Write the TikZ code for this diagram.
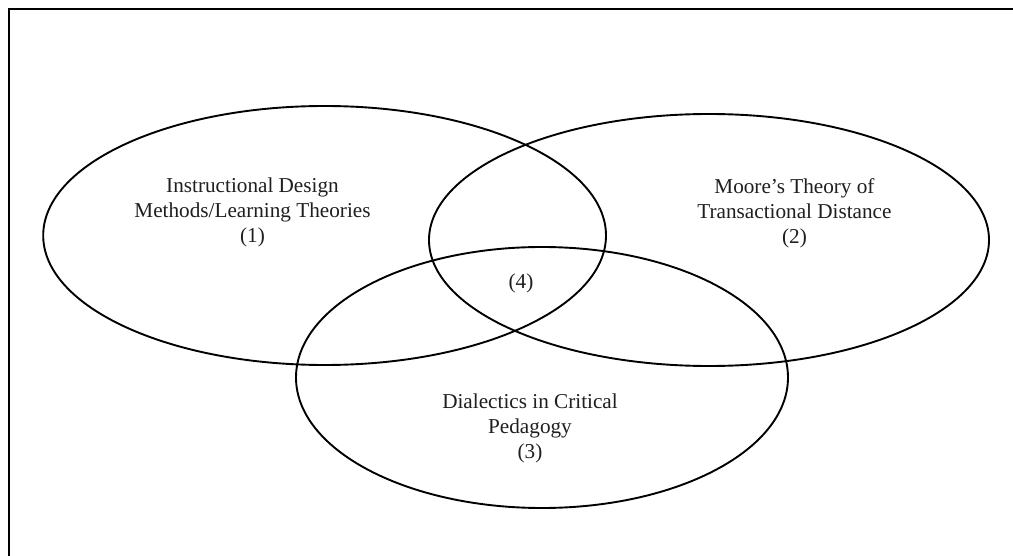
\documentclass[tikz,border=0pt]{standalone}
\usepackage{fontspec}
\setmainfont{Liberation Serif}
\begin{document}
\begin{tikzpicture}[x=1pt,y=-1pt,
  setshape/.style={draw=black,line width=1.9pt},
  lbl/.style={align=center,inner sep=0pt,text=black!88,font=\fontsize{21.2}{25}\selectfont}]
\useasboundingbox (0,0) rectangle (1013,556);
\fill[white] (0,0) rectangle (1013,556);
\coordinate (bl) at (9,556);
\coordinate (tl) at (9,9);
\coordinate (tr) at (1013,9);
\draw[line width=2.2pt] (bl) -- (tl) -- (tr);
\draw[setshape] (324.6,235.5) ellipse [x radius=281.4, y radius=129.5];
\draw[setshape] (709,240) ellipse [x radius=280, y radius=126];
\draw[setshape] (542,377.5) ellipse [x radius=246, y radius=130.5];
\node[lbl] (s1) at (252.5,212) {Instructional Design\\Methods/Learning Theories\\(1)};
\node[lbl] (s2) at (794.5,213) {Moore’s Theory of\\Transactional Distance\\(2)};
\node[lbl] (s3) at (530,428) {Dialectics in Critical\\Pedagogy\\(3)};
\node[lbl] (s4) at (521,283) {(4)};
\end{tikzpicture}
\end{document}
